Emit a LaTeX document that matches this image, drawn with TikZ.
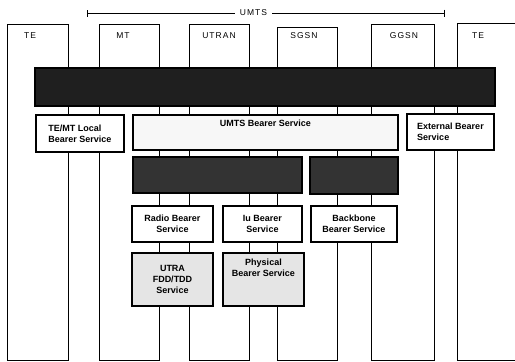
\documentclass[tikz,border=0pt]{standalone}
\usepackage{fontspec}
\setmainfont{Liberation Sans}
\newfontfamily\spacedfont[LetterSpace=12]{Liberation Sans}
\usetikzlibrary{arrows.meta}
\tikzset{
  col/.style={draw=black, line width=0.9pt, anchor=north west, inner sep=0pt, outer sep=0pt},
  ent/.style={font=\spacedfont\fontsize{8.5}{9}\selectfont, inner sep=1pt},
  bx/.style={draw=black, line width=1.2pt, align=center, font=\bfseries\fontsize{9}{11}\selectfont, inner sep=2pt},
  svc/.style={bx, fill=white},
  lite/.style={bx, fill=black!10},
  pale/.style={bx, fill=black!3},
  dark/.style={bx, fill=black!88},
  dark2/.style={bx, fill=black!80},
  span/.style={{Bar[width=7pt]}-{Bar[width=7pt]}, line width=0.8pt},
}
\begin{document}
\begin{tikzpicture}[x=1pt, y=-1pt]
  \useasboundingbox (0,0) rectangle (515,362);
  % one column per network element
  \foreach \nm/\x/\y/\w/\h/\lx/\tx in {
    tel/7/24/61/336/30/TE,
    mt/99/24/60/336/123/MT,
    utran/189/24/60/336/219/UTRAN,
    sgsn/277/27/60/333/304/SGSN,
    ggsn/371/24/63/336/404/GGSN,
    ter/457/23/70/337/478/TE}
  { \node[col, minimum width=\w pt, minimum height=\h pt] (\nm) at (\x,\y) {};
    \node[ent] (\nm-lb) at (\lx,36) {\tx}; }
  \coordinate (ul) at (87,13);
  \coordinate (ur) at (445,13);
  \draw[span] (ul) -- node[pos=0.465, fill=white, ent, inner xsep=5pt] (umts) {UMTS} (ur);
  % bearer layers
  \node[dark, minimum width=460pt, minimum height=38pt] (e2e) at (265,87) {};
  \node[svc, minimum width=88pt, minimum height=37pt, align=left] (local) at (80,133.5) {TE/MT Local\\Bearer Service};
  \node[pale, minimum width=265pt, minimum height=35pt, text depth=19pt] (umtsbs) at (265.5,132.5) {UMTS Bearer Service};
  \node[svc, minimum width=87pt, minimum height=36pt, align=left] (ext) at (450.5,132) {External Bearer\\Service};
  \node[dark2, minimum width=169pt, minimum height=36pt] (rab) at (217.5,175) {};
  \node[dark2, minimum width=88pt, minimum height=37pt] (cn) at (354,175.5) {};
  \node[svc, minimum width=81pt, minimum height=36pt] (rb) at (172.5,224) {Radio Bearer\\Service};
  \node[svc, minimum width=79pt, minimum height=36pt] (iu) at (262.5,224) {Iu Bearer\\Service};
  \node[svc, minimum width=86pt, minimum height=36pt] (bb) at (354,224) {Backbone\\Bearer Service};
  \node[lite, minimum width=81pt, minimum height=53pt] (utra) at (172.5,279.5) {UTRA\\FDD/TDD\\Service};
  \node[lite, minimum width=81pt, minimum height=53pt, text depth=23pt] (phy) at (263.5,279.5) {Physical\\Bearer Service};
\end{tikzpicture}
\end{document}
